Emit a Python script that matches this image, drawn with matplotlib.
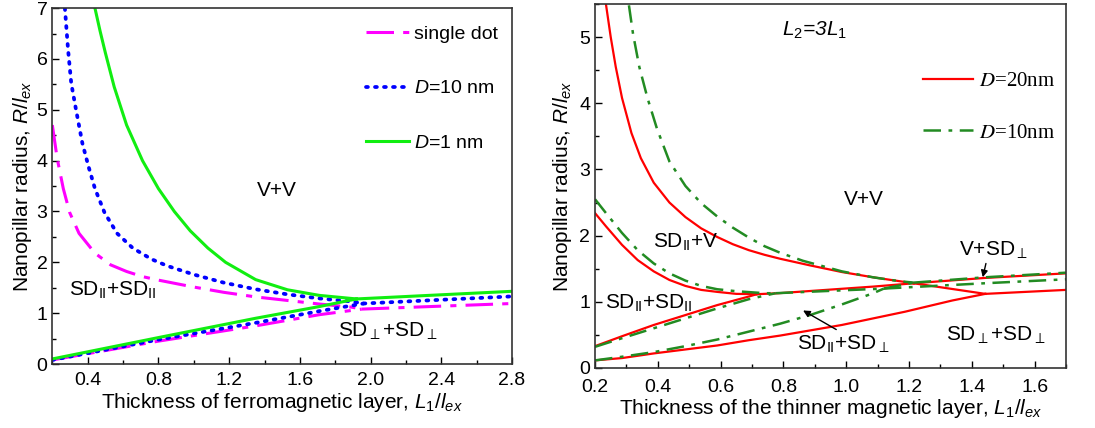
import numpy as np
import matplotlib.pyplot as plt
from matplotlib.font_manager import FontProperties
from matplotlib.ticker import MultipleLocator

plt.rcParams['font.family'] = ['Liberation Sans', 'DejaVu Sans']
plt.rcParams['mathtext.fontset'] = 'custom'
plt.rcParams['mathtext.rm'] = 'Liberation Sans'
plt.rcParams['mathtext.it'] = 'Liberation Sans:italic'
plt.rcParams['mathtext.sf'] = 'Liberation Sans'

# ---------------- left panel: single dot vs. two layers ----------------
# single dot: upper branch, lower branch, branch after the triple point
SingleUpX  = [0.2, 0.227, 0.262, 0.298, 0.351, 0.441, 0.53, 0.62, 0.709, 0.8, 0.99,
              1.17, 1.35, 1.53, 1.71, 1.89, 1.95]
SingleUpY  = [4.7, 4.05, 3.45, 2.98, 2.57, 2.18, 1.95, 1.82, 1.72, 1.65, 1.52,
              1.41, 1.32, 1.25, 1.18, 1.12, 1.08]
SingleLoX  = [0.2, 0.8, 1.35, 1.71, 1.95]
SingleLoY  = [0.08, 0.45, 0.75, 0.97, 1.08]
SingleRX   = [1.95, 2.8]
SingleRY   = [1.08, 1.19]

# D = 10 nm
D10UpX     = [0.271, 0.289, 0.307, 0.334, 0.37, 0.405, 0.441, 0.495, 0.566, 0.655,
              0.762, 0.85, 1.0, 1.17, 1.35, 1.53, 1.71, 1.89, 1.96]
D10UpY     = [7.0, 6.18, 5.52, 5.0, 4.34, 3.88, 3.45, 2.98, 2.57, 2.28,
              2.06, 1.93, 1.76, 1.6, 1.47, 1.37, 1.29, 1.23, 1.19]
D10LoX     = [0.2, 0.8, 1.35, 1.71, 1.96]
D10LoY     = [0.08, 0.48, 0.81, 1.04, 1.19]
D10RX      = [1.96, 2.8]
D10RY      = [1.19, 1.33]

# D = 1 nm
D1UpX      = [0.441, 0.47, 0.5, 0.55, 0.62, 0.71, 0.8, 0.89, 0.98, 1.08, 1.18,
              1.35, 1.53, 1.71, 1.92]
D1UpY      = [7.0, 6.55, 6.12, 5.45, 4.7, 4.0, 3.45, 3.0, 2.62, 2.28, 2.0,
              1.66, 1.46, 1.35, 1.28]
D1LoX      = [0.2, 0.8, 1.35, 1.71, 1.92]
D1LoY      = [0.1, 0.52, 0.9, 1.13, 1.28]
D1RX       = [1.92, 2.8]
D1RY       = [1.28, 1.43]

# ---------------- right panel: L2 = 3 L1 ----------------
# D = 20 nm
R20UpX     = [0.235, 0.25, 0.266, 0.286, 0.316, 0.346, 0.387, 0.437, 0.488, 0.538,
              0.589, 0.639, 0.69, 0.74, 0.79, 0.885, 0.986, 1.086, 1.172, 1.215]
R20UpY     = [5.49, 5.0, 4.55, 4.08, 3.55, 3.17, 2.8, 2.5, 2.28, 2.11,
              1.98, 1.87, 1.78, 1.71, 1.65, 1.55, 1.45, 1.37, 1.31, 1.28]
R20MidX    = [0.2, 0.235, 0.286, 0.336, 0.387, 0.437, 0.488, 0.538, 0.589, 0.65, 0.715]
R20MidY    = [2.34, 2.14, 1.86, 1.63, 1.46, 1.33, 1.24, 1.18, 1.15, 1.12, 1.115]
R20RiseX   = [0.2, 0.286, 0.387, 0.488, 0.589, 0.69, 0.715]
R20RiseY   = [0.33, 0.48, 0.65, 0.8, 0.95, 1.08, 1.115]
R20LineX   = [0.715, 0.785, 1.086, 1.215]
R20LineY   = [1.115, 1.13, 1.23, 1.28]
R20UpRX    = [1.215, 1.44, 1.7]
R20UpRY    = [1.28, 1.36, 1.43]
R20DownX   = [1.215, 1.443]
R20DownY   = [1.28, 1.12]
R20LowX    = [0.2, 0.286, 0.387, 0.488, 0.589, 0.69, 0.79, 0.986, 1.187, 1.338, 1.443]
R20LowY    = [0.115, 0.15, 0.22, 0.28, 0.34, 0.42, 0.49, 0.65, 0.85, 1.02, 1.12]
R20LowRX   = [1.443, 1.7]
R20LowRY   = [1.12, 1.18]

# D = 10 nm
G10UpX     = [0.308, 0.321, 0.341, 0.367, 0.397, 0.437, 0.488, 0.538, 0.589, 0.639,
              0.69, 0.74, 0.79, 0.862, 0.986, 1.086, 1.172, 1.215]
G10UpY     = [5.48, 5.05, 4.55, 4.08, 3.62, 3.12, 2.75, 2.49, 2.29, 2.12,
              1.97, 1.84, 1.74, 1.62, 1.46, 1.37, 1.31, 1.29]
G10UpRX    = [1.215, 1.44, 1.7]
G10UpRY    = [1.29, 1.37, 1.44]
G10MidX    = [0.2, 0.235, 0.286, 0.336, 0.387, 0.437, 0.488, 0.538, 0.589, 0.65, 0.74, 0.775]
G10MidY    = [2.55, 2.34, 2.04, 1.78, 1.58, 1.43, 1.32, 1.24, 1.19, 1.16, 1.13, 1.13]
G10RiseX   = [0.2, 0.286, 0.387, 0.488, 0.589, 0.69, 0.775]
G10RiseY   = [0.32, 0.45, 0.6, 0.75, 0.9, 1.04, 1.13]
G10LineX   = [0.775, 1.12]
G10LineY   = [1.13, 1.2]
G10LinkX   = [1.12, 1.215]
G10LinkY   = [1.2, 1.29]
G10LowX    = [0.2, 0.286, 0.387, 0.488, 0.589, 0.69, 0.79, 0.885, 0.986, 1.086, 1.12]
G10LowY    = [0.115, 0.17, 0.24, 0.33, 0.43, 0.55, 0.67, 0.8, 0.96, 1.13, 1.2]
G10LowRX   = [1.12, 1.44, 1.7]
G10LowRY   = [1.2, 1.28, 1.34]

fig = plt.figure(figsize=(10.95, 4.28), dpi=100)
ax1 = fig.add_axes([0.0478, 0.1495, 0.4198, 0.8315])
ax2 = fig.add_axes([0.5434, 0.1402, 0.4301, 0.8505])

# left panel
lw = 2.2
mdash = (9, 3, 2, 3)
bdots = (0, (0.5, 1.9))
ax1.plot(SingleUpX, SingleUpY, color='#ff00ff', lw=lw, dashes=mdash, label='single dot')
ax1.plot(SingleLoX, SingleLoY, color='#ff00ff', lw=lw, dashes=mdash)
ax1.plot(SingleRX, SingleRY, color='#ff00ff', lw=lw, dashes=mdash)
ax1.plot(D10UpX, D10UpY, color='#0000ff', lw=2.7, ls=bdots, dash_capstyle='round', label=r'$D$=10 nm')
ax1.plot(D10LoX, D10LoY, color='#0000ff', lw=2.7, ls=bdots, dash_capstyle='round')
ax1.plot(D10RX, D10RY, color='#0000ff', lw=2.7, ls=bdots, dash_capstyle='round')
ax1.plot(D1UpX, D1UpY, color='#11ee11', lw=lw, label=r'$D$=1 nm')
ax1.plot(D1LoX, D1LoY, color='#11ee11', lw=lw)
ax1.plot(D1RX, D1RY, color='#11ee11', lw=lw)

ax1.set_xlim(0.2, 2.8)
ax1.set_ylim(0, 7)
ax1.xaxis.set_minor_locator(MultipleLocator(0.2))
ax1.yaxis.set_major_locator(MultipleLocator(1))
ax1.yaxis.set_minor_locator(MultipleLocator(0.5))
ax1.set_xticks([0.4, 0.8, 1.2, 1.6, 2.0, 2.4, 2.8])
ax1.set_xticklabels(['0.4', '0.8', '1.2', '1.6', '2.0', '2.4', '2.8'])
ax1.set_xlabel(r'Thickness of ferromagnetic layer, $L_1/l_{ex}$', fontsize=15, labelpad=1)
ax1.set_ylabel(r'Nanopillar radius, $R/l_{ex}$', fontsize=15, labelpad=2)
ax1.legend(loc='upper right', fontsize=14, frameon=False, handlelength=2.2,
           labelspacing=1.9, handletextpad=0.3, borderaxespad=0.3,
           bbox_to_anchor=(1.0, 0.99))
ax1.text(1.47, 3.42, 'V+V', fontsize=15, ha='center', va='center')
ax1.text(0.54, 1.45, r'SD$_{\mathrm{II}}$+SD$_{\mathrm{II}}$', fontsize=15, ha='center', va='center')
ax1.text(2.1, 0.65, r'SD$_{\perp}$+SD$_{\perp}$', fontsize=15, ha='center', va='center')

# right panel
rlw = 1.6
ax2.plot(R20UpX, R20UpY, color='#ff0000', lw=rlw, label=r'$D$=20nm')
for x, y in [(R20MidX, R20MidY), (R20RiseX, R20RiseY), (R20LineX, R20LineY),
             (R20UpRX, R20UpRY), (R20DownX, R20DownY), (R20LowX, R20LowY),
             (R20LowRX, R20LowRY)]:
    ax2.plot(x, y, color='#ff0000', lw=rlw)
gdash = (7, 3, 1.5, 3)
ax2.plot(G10UpX, G10UpY, color='#228b22', lw=1.8, dashes=gdash, label=r'$D$=10nm')
for x, y in [(G10UpRX, G10UpRY), (G10MidX, G10MidY), (G10RiseX, G10RiseY),
             (G10LineX, G10LineY), (G10LinkX, G10LinkY), (G10LowX, G10LowY),
             (G10LowRX, G10LowRY)]:
    ax2.plot(x, y, color='#228b22', lw=1.8, dashes=gdash)

ax2.set_xlim(0.2, 1.7)
ax2.set_ylim(0, 5.5)
ax2.xaxis.set_major_locator(MultipleLocator(0.2))
ax2.xaxis.set_minor_locator(MultipleLocator(0.1))
ax2.yaxis.set_major_locator(MultipleLocator(1))
ax2.yaxis.set_minor_locator(MultipleLocator(0.5))
ax2.set_xlabel(r'Thickness of the thinner magnetic layer, $L_1/l_{ex}$', fontsize=15, labelpad=1)
ax2.set_ylabel(r'Nanopillar radius, $R/l_{ex}$', fontsize=15, labelpad=4)
legprop = FontProperties(family='Liberation Serif', size=15, math_fontfamily='stix')
ax2.legend(loc='upper right', prop=legprop, frameon=False, handlelength=2.4,
           labelspacing=1.55, handletextpad=0.3, borderaxespad=0.0,
           bbox_to_anchor=(0.995, 0.838))
ax2.text(0.9, 5.1, r'$L_2$=3$L_1$', fontsize=15, ha='center', va='center', style='italic')
ax2.text(1.056, 2.54, 'V+V', fontsize=15, ha='center', va='center')
ax2.text(0.49, 1.9, r'SD$_{\mathrm{II}}$+V', fontsize=15, ha='center', va='center')
ax2.text(0.37, 0.98, r'SD$_{\mathrm{II}}$+SD$_{\mathrm{II}}$', fontsize=15, ha='center', va='center')
ax2.text(0.99, 0.35, r'SD$_{\mathrm{II}}$+SD$_{\perp}$', fontsize=15, ha='center', va='center')
ax2.text(1.478, 0.5, r'SD$_{\perp}$+SD$_{\perp}$', fontsize=15, ha='center', va='center')
ax2.text(1.468, 1.78, r'V+SD$_{\perp}$', fontsize=15, ha='center', va='center')
ax2.annotate('', xy=(1.433, 1.33), xytext=(1.447, 1.62),
             arrowprops=dict(arrowstyle='-|>', color='black', lw=1, mutation_scale=10))
ax2.annotate('', xy=(0.855, 0.89), xytext=(0.976, 0.56),
             arrowprops=dict(arrowstyle='-|>', color='black', lw=1, mutation_scale=10))

for ax in (ax1, ax2):
    ax.tick_params(which='both', direction='in', top=False, right=False, labelsize=14)
    ax.tick_params(which='major', length=5, width=1)
    ax.tick_params(which='minor', length=3, width=1)
    for s in ax.spines.values():
        s.set_linewidth(1.2)
        s.set_color('#333333')
ax1.tick_params(axis='x', which='major', pad=6)
ax2.tick_params(axis='x', which='major', pad=8)

fig.savefig('out.png', dpi=100)
